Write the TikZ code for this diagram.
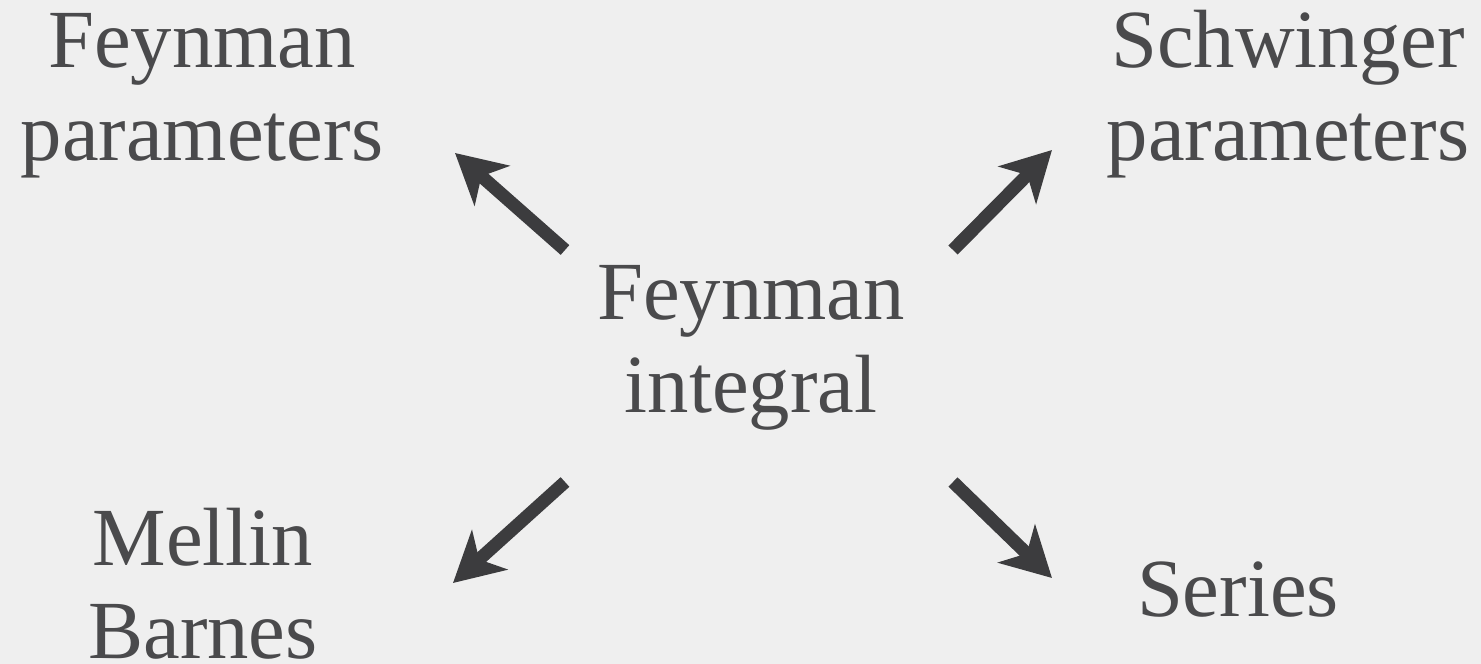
\documentclass[tikz,border=0pt]{standalone}
\usepackage{fontspec}
\setmainfont{Liberation Serif}
\usepackage{xcolor}
\usetikzlibrary{positioning,arrows.meta}

\definecolor{paper}{HTML}{EFEFEF}
\definecolor{ink}{HTML}{4A4A4C}
\definecolor{arrowink}{HTML}{3C3C3E}

\tikzset{
  label/.style={align=center,text=ink,inner sep=0pt,
    font=\fontsize{23.5}{26.5}\selectfont},
  maparrow/.style={draw=arrowink,line width=3.7pt,
    -{Stealth[length=14pt,width=15pt,inset=4pt]}}
}

\begin{document}
\begin{tikzpicture}[x=0.01cm,y=-0.01cm]
  % page
  \fill[paper] (0,0) rectangle (1481,664);
  \useasboundingbox (0,0) rectangle (1481,664);
  % labels
  \node[label] (integral) at (751,348) {Feynman\\integral};
  \node[label] (feynpar) at (202,96) {Feynman\\parameters};
  \node[label] (schwpar) at (1288,94) {Schwinger\\parameters};
  \node[label] (mellin) at (203,584) {Mellin\\Barnes};
  \node[label] (series) at (1238,590) {Series};
  % arrow ends
  \coordinate (ul0) at (565,250);
  \coordinate (ul1) at (455,153);
  \coordinate (ur0) at (953,250);
  \coordinate (ur1) at (1052,150);
  \coordinate (ll0) at (565,482);
  \coordinate (ll1) at (453,583);
  \coordinate (lr0) at (953,482);
  \coordinate (lr1) at (1052,578);
  % arrows
  \draw[maparrow] (ul0) -- (ul1);
  \draw[maparrow] (ur0) -- (ur1);
  \draw[maparrow] (ll0) -- (ll1);
  \draw[maparrow] (lr0) -- (lr1);
\end{tikzpicture}
\end{document}
